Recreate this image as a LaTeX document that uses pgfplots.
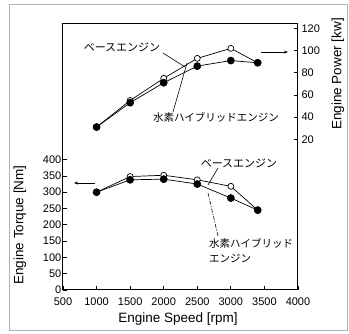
\documentclass[border=0pt]{standalone}
\usepackage{pgfplots}
\pgfplotsset{compat=1.18}
\usetikzlibrary{arrows.meta}
\usepackage{fontspec}
\setmainfont{Liberation Sans}
\newfontfamily\jp{Noto Sans CJK JP}
\begin{document}
\begin{tikzpicture}[x=1pt,y=1pt]
\path[use as bounding box] (0,0) rectangle (349,334);
\draw[gray!60, line width=1pt] (9,3) rectangle (347,329);
\begin{axis}[at={(63pt,44pt)}, anchor=south west, scale only axis,
  width=235pt, height=266pt,
  xmin=500, xmax=4000, ymin=0, ymax=816,
  xtick={500,1000,...,4000}, ytick={0,50,...,400},
  xtick pos=bottom, ytick pos=left,
  major tick length=4pt,
  axis line style={line width=1pt},
  tick style={black, line width=0.8pt},
  ticklabel style={font=\fontsize{11}{12}\selectfont},
  xticklabel style={inner xsep=0pt, yshift=-4pt},
  yticklabel style={inner xsep=1.5pt},
  /pgf/number format/assume math mode=true,
  /pgf/number format/1000 sep={},
  clip=false]
\addplot[black, line width=0.7pt, mark=*, mark size=3pt, mark options={fill=white, line width=0.7pt}]
  coordinates {(1000,300)(1500,348)(2000,352)(2500,338)(3000,318)(3400,245)};
\addplot[black, line width=0.7pt, mark=*, mark size=3.5pt, mark options={fill=black}]
  coordinates {(1000,300)(1500,338)(2000,340)(2500,325)(3000,282)(3400,245)};
\end{axis}
\begin{axis}[at={(63pt,44pt)}, anchor=south west, scale only axis,
  width=235pt, height=266pt,
  xmin=500, xmax=4000, ymin=-116, ymax=124,
  axis x line=none, axis y line*=right,
  ytick={20,40,...,120},
  major tick length=4pt,
  axis line style={line width=1pt, -},
  tick style={black, line width=0.8pt},
  ticklabel style={font=\fontsize{11}{12}\selectfont},
  /pgf/number format/assume math mode=true,
  clip=false]
\addplot[black, line width=0.7pt, mark=*, mark size=3pt, mark options={fill=white, line width=0.7pt}]
  coordinates {(1000,31)(1500,55)(2000,75)(2500,93)(3000,102)(3400,89)};
\addplot[black, line width=0.7pt, mark=*, mark size=3.5pt, mark options={fill=black}]
  coordinates {(1000,31)(1500,53)(2000,71)(2500,86)(3000,91)(3400,89)};
\end{axis}
% axis titles
\node[font=\fontsize{13.5}{14}\selectfont] at (178,15) {Engine Speed [rpm]};
\node[font=\fontsize{13.5}{14}\selectfont, rotate=90] at (20,109) {Engine Torque [Nm]};
\node[font=\fontsize{13.5}{14}\selectfont, rotate=90] at (338,260) {Engine Power [kw]};
% annotations
\node[font=\jp\fontsize{11}{12}\selectfont] at (122,287) {ベースエンジン};
\draw[line width=0.6pt] (163,281) -- (185,267);
\node[font=\jp\fontsize{10.5}{12}\selectfont] at (216,217) {水素ハイブリッドエンジン};
\draw[line width=0.6pt] (173,222) -- (187,271);
\node[font=\jp\fontsize{11}{12}\selectfont] at (239,171) {ベースエンジン};
\draw[line width=0.6pt] (218,166) -- (208,149);
\node[font=\jp\fontsize{10.5}{12}\selectfont, anchor=west, inner xsep=0pt] at (209,91) {水素ハイブリッド};
\node[font=\jp\fontsize{10.5}{12}\selectfont, anchor=west, inner xsep=0pt] at (209,75) {エンジン};
\draw[line width=0.6pt, dash pattern=on 4pt off 1.5pt on 1pt off 1.5pt] (208,141) -- (218,98);
\draw[line width=0.7pt, -{Stealth[length=4pt]}] (95,151) -- (74,151);
\draw[line width=0.7pt, -{Stealth[length=4pt]}] (261,282) -- (288,282);
\end{tikzpicture}
\end{document}
